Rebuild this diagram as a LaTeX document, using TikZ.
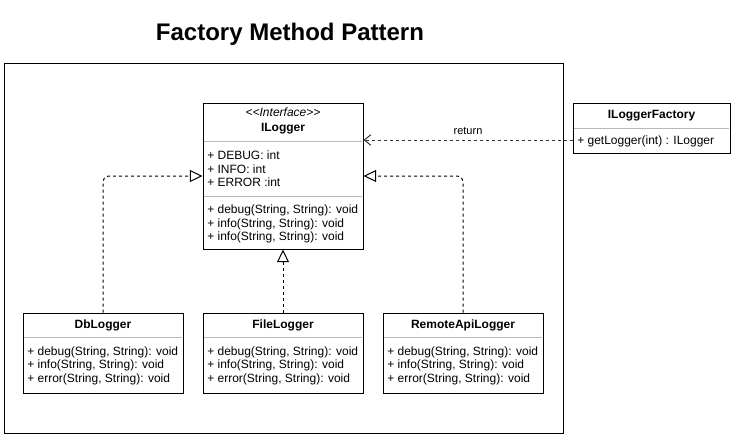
\documentclass[tikz,border=0pt]{standalone}
\usepackage{fontspec}
\setmainfont{Liberation Sans}
\usetikzlibrary{arrows.meta}
\begin{document}
\begin{tikzpicture}[x=0.75pt,y=-0.75pt,
  box/.style={draw=black, line width=0.75pt, inner sep=0pt},
  sepline/.style={draw=gray!55, line width=0.75pt},
  txt/.style={font=\fontsize{9pt}{11pt}\selectfont, inner sep=0pt, anchor=mid west},
  hdr/.style={font=\fontsize{9pt}{11pt}\selectfont\bfseries, inner sep=0pt, anchor=mid},
  realize/.style={draw=black, line width=0.75pt, dash pattern=on 2.25pt off 2.25pt,
    -{Triangle[open,length=9.5pt,width=9pt]}, rounded corners=4pt},
  depend/.style={draw=black!80, line width=0.75pt, dash pattern=on 2.25pt off 2.25pt,
    -{Straight Barb[length=5pt,width=8pt]}}
]
\useasboundingbox (0,0) rectangle (737,437);

\node[font=\fontsize{18pt}{21pt}\selectfont\bfseries, inner sep=0pt] (title) at (290,34) {Factory Method Pattern};
\node[box, minimum width=419.25pt, minimum height=277.5pt] (frame) at (283.5,248) {};

% ILogger
\draw[sepline] (204,141) -- (362,141);
\draw[sepline] (204,196) -- (362,196);
\node[box, minimum width=120pt, minimum height=109.5pt] (ilogger) at (283,176) {};
\node[hdr, font=\fontsize{9pt}{11pt}\selectfont\itshape] (stereo) at (283,113) {<\kern0pt<Interface>\kern0pt>};
\node[hdr] (iloggername) at (283,128) {ILogger};
\node[txt] (a1) at (207,156) {+ DEBUG: int};
\node[txt] (a2) at (207,169.5) {+ INFO: int};
\node[txt] (a3) at (207,183) {+ ERROR :int};
\node[txt] (m1) at (207,210) {+ debug(String, String): void};
\node[txt] (m2) at (207,223.5) {+ info(String, String): void};
\node[txt] (m3) at (207,237) {+ info(String, String): void};

% ILoggerFactory
\draw[sepline] (574,128) -- (729,128);
\node[box, minimum width=117.75pt, minimum height=37.5pt] (factory) at (651.5,128) {};
\node[hdr] (factoryname) at (651.5,115) {ILoggerFactory};
\node[txt] (f1) at (577,140.5) {+ getLogger(int) : ILogger};

% DbLogger
\draw[sepline] (24,337) -- (182,337);
\node[box, minimum width=120pt, minimum height=60pt] (db) at (103,353) {};
\node[hdr] (dbname) at (103,325) {DbLogger};
\node[txt] (d1) at (27,351.5) {+ debug(String, String): void};
\node[txt] (d2) at (27,365) {+ info(String, String): void};
\node[txt] (d3) at (27,379) {+ error(String, String): void};

% FileLogger
\draw[sepline] (204,337) -- (362,337);
\node[box, minimum width=120pt, minimum height=60pt] (file) at (283,353) {};
\node[hdr] (filename) at (283,325) {FileLogger};
\node[txt] (e1) at (207,351.5) {+ debug(String, String): void};
\node[txt] (e2) at (207,365) {+ info(String, String): void};
\node[txt] (e3) at (207,379) {+ error(String, String): void};

% RemoteApiLogger
\draw[sepline] (384,337) -- (542,337);
\node[box, minimum width=120pt, minimum height=60pt] (remote) at (463,353) {};
\node[hdr] (remotename) at (463,325) {RemoteApiLogger};
\node[txt] (r1) at (387,351.5) {+ debug(String, String): void};
\node[txt] (r2) at (387,365) {+ info(String, String): void};
\node[txt] (r3) at (387,379) {+ error(String, String): void};

% connectors
\draw[realize] (db.north) |- (ilogger.west);
\draw[realize] (file.north) -- (ilogger.south);
\draw[realize] (remote.north) |- (ilogger.east);
\draw[depend] ([yshift=-9pt]factory.west) -- ([yshift=27pt]ilogger.east)
  node[midway, anchor=base, yshift=4.5pt, inner sep=0pt, font=\fontsize{8.25pt}{10pt}\selectfont] (retlabel) {return};
\end{tikzpicture}
\end{document}
